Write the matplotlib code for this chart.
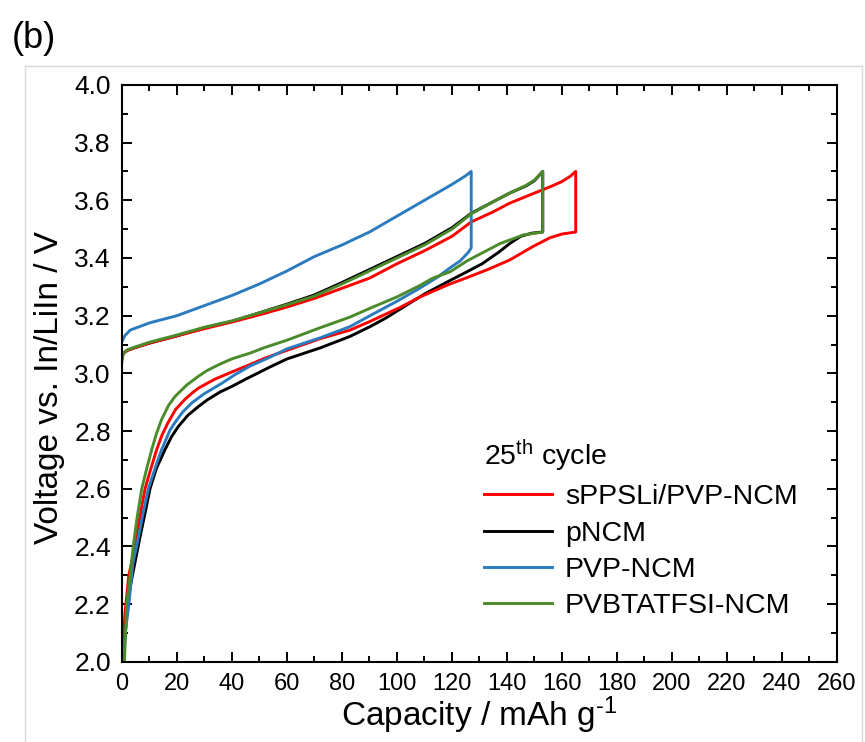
import matplotlib.pyplot as plt
from matplotlib.ticker import MultipleLocator
from matplotlib.lines import Line2D

plt.rcParams['font.family'] = ['Liberation Sans', 'DejaVu Sans']
plt.rcParams['mathtext.fontset'] = 'custom'
plt.rcParams['mathtext.rm'] = 'Liberation Sans'
plt.rcParams['mathtext.it'] = 'Liberation Sans'

labels = ['sPPSLi/PVP-NCM', 'pNCM', 'PVP-NCM', 'PVBTATFSI-NCM']
colors = ['#ff0000', '#000000', '#2b7bbf', '#4b8b2b']

# charge curves (capacity, voltage)
red_chg_q = [0, 0.5, 2, 5, 10, 20, 30, 40, 50, 60, 70, 80, 90, 100, 110, 120, 127, 135, 141, 150, 156, 160, 163, 165]
red_chg_v = [3.055, 3.07, 3.08, 3.09, 3.105, 3.13, 3.155, 3.178, 3.203, 3.23, 3.26, 3.295, 3.33, 3.38, 3.425,
             3.475, 3.525, 3.56, 3.59, 3.625, 3.648, 3.665, 3.683, 3.70]
blk_chg_q = [0, 0.5, 2, 5, 10, 20, 30, 40, 50, 60, 70, 80, 90, 100, 110, 120, 127, 135, 141, 147, 150, 153]
blk_chg_v = [3.06, 3.07, 3.08, 3.09, 3.105, 3.13, 3.158, 3.18, 3.21, 3.24, 3.272, 3.315, 3.36, 3.405, 3.45,
             3.505, 3.555, 3.595, 3.625, 3.65, 3.668, 3.70]
blu_chg_q = [0, 0.5, 1, 3, 10, 20, 30, 40, 50, 60, 70, 80, 90, 100, 110, 120, 125, 127]
blu_chg_v = [3.11, 3.12, 3.13, 3.15, 3.175, 3.20, 3.235, 3.27, 3.31, 3.355, 3.405, 3.445, 3.49, 3.545, 3.60,
             3.655, 3.685, 3.70]
grn_chg_q = [0, 0.5, 2, 5, 10, 20, 30, 40, 50, 60, 70, 80, 90, 100, 110, 120, 127, 135, 141, 147, 150, 153]
grn_chg_v = [3.04, 3.07, 3.082, 3.092, 3.108, 3.133, 3.16, 3.182, 3.21, 3.238, 3.268, 3.31, 3.355, 3.40, 3.445,
             3.50, 3.553, 3.595, 3.625, 3.652, 3.67, 3.70]

# discharge curves (capacity, voltage), from the end of discharge upward
red_dis_q = [0, 1.1, 2.5, 3.6, 5.5, 8.4, 10.2, 12.6, 14.5, 16.8, 19.5, 22.9, 25.5, 28, 33.8, 40, 45.9, 52, 60, 72,
             82.9, 90.2, 101, 108.4, 119.3, 125.5, 133, 141, 149.5, 155.6, 160, 165]
red_dis_v = [2.0, 2.17, 2.3, 2.35, 2.45, 2.6, 2.66, 2.735, 2.785, 2.83, 2.875, 2.91, 2.932, 2.95, 2.98, 3.005,
             3.028, 3.053, 3.08, 3.12, 3.15, 3.18, 3.228, 3.265, 3.31, 3.332, 3.36, 3.393, 3.44, 3.47, 3.483, 3.49]
blk_dis_q = [0.4, 1.8, 3, 4.7, 6.5, 8.5, 10.2, 12.5, 15.6, 18, 20.5, 24, 27.8, 31, 35.6, 40, 45, 53.8, 60, 72,
             82.9, 90.2, 96, 101, 110, 119.3, 125, 131, 137, 141, 145, 149, 153]
blk_dis_v = [2.0, 2.17, 2.26, 2.343, 2.43, 2.52, 2.6, 2.67, 2.735, 2.78, 2.816, 2.855, 2.885, 2.908, 2.935,
             2.955, 2.98, 3.022, 3.05, 3.088, 3.128, 3.162, 3.192, 3.222, 3.275, 3.322, 3.35, 3.38, 3.42, 3.45,
             3.475, 3.486, 3.49]
blu_dis_q = [0.5, 1.2, 2.5, 4, 5.3, 7.7, 9.6, 12.7, 14.4, 17.5, 19.3, 22, 25.3, 30, 36.2, 41, 46.5, 53.8, 60, 72,
             82.9, 90.2, 100, 108.4, 115, 119.3, 123, 126, 127]
blu_dis_v = [2.0, 2.1, 2.2, 2.343, 2.4, 2.516, 2.6, 2.69, 2.735, 2.804, 2.83, 2.865, 2.897, 2.93, 2.965, 2.995,
             3.025, 3.056, 3.085, 3.123, 3.162, 3.20, 3.25, 3.296, 3.335, 3.366, 3.39, 3.42, 3.435]
grn_dis_q = [0.9, 1.7, 3, 4.1, 5.5, 7.2, 9, 10.8, 12.5, 14.4, 17, 19.3, 23.6, 27.8, 31, 35.6, 39.9, 46.5, 52, 60,
             72, 82.9, 90, 100, 108.4, 113, 119.3, 125.5, 137.5, 146, 153]
grn_dis_v = [2.0, 2.2, 2.3, 2.4, 2.5, 2.6, 2.67, 2.735, 2.79, 2.84, 2.89, 2.92, 2.96, 2.99, 3.01, 3.032, 3.05,
             3.07, 3.09, 3.115, 3.158, 3.195, 3.225, 3.265, 3.305, 3.33, 3.352, 3.39, 3.45, 3.48, 3.49]

curves = {
    'sPPSLi/PVP-NCM': (red_chg_q, red_chg_v, red_dis_q, red_dis_v),
    'pNCM': (blk_chg_q, blk_chg_v, blk_dis_q, blk_dis_v),
    'PVP-NCM': (blu_chg_q, blu_chg_v, blu_dis_q, blu_dis_v),
    'PVBTATFSI-NCM': (grn_chg_q, grn_chg_v, grn_dis_q, grn_dis_v),
}

fig = plt.figure(figsize=(8.65, 7.42), dpi=100)
ax = fig.add_axes([0.141, 0.108, 0.8266, 0.7776])

# light grey panel frame
fig.add_artist(Line2D([25 / 865, 862 / 865], [1 - 66 / 742, 1 - 66 / 742], color='#d9d9d9', lw=1))
fig.add_artist(Line2D([25 / 865, 25 / 865], [0, 1 - 66 / 742], color='#d9d9d9', lw=1))
fig.add_artist(Line2D([862 / 865, 862 / 865], [0, 1 - 66 / 742], color='#d9d9d9', lw=1))

draw_order = ['pNCM', 'sPPSLi/PVP-NCM', 'PVP-NCM', 'PVBTATFSI-NCM']
handles = {}
for name in draw_order:
    cq, cv, dq, dv = curves[name]
    x = list(cq) + list(dq)[::-1]
    y = list(cv) + list(dv)[::-1]
    (ln,) = ax.plot(x, y, color=colors[labels.index(name)], lw=2.1, solid_joinstyle='round')
    handles[name] = ln

ax.set_xlim(0, 260)
ax.set_ylim(2.0, 4.0)
ax.xaxis.set_major_locator(MultipleLocator(20))
ax.xaxis.set_minor_locator(MultipleLocator(10))
ax.yaxis.set_major_locator(MultipleLocator(0.2))
ax.yaxis.set_minor_locator(MultipleLocator(0.1))
ax.yaxis.set_major_formatter(plt.FormatStrFormatter('%.1f'))
ax.tick_params(which='both', direction='in', top=True, right=True, width=1.4)
ax.tick_params(which='major', length=7.5)
ax.tick_params(which='minor', length=4)
ax.tick_params(axis='x', labelsize=17, pad=8)
ax.tick_params(axis='y', labelsize=19, pad=8)
for s in ax.spines.values():
    s.set_linewidth(1.5)

ax.set_xlabel('Capacity / mAh g$^{\\text{-1}}$', fontsize=24, labelpad=0)
ax.set_ylabel('Voltage vs. In/LiIn / V', fontsize=24)
ax.yaxis.set_label_coords(-0.079, 0.475)

leg = ax.legend([handles[n] for n in labels], labels, title='25$^{\\mathrm{th}}$ cycle',
                loc='upper left', bbox_to_anchor=(458 / 865, 1 - 412 / 742), bbox_transform=fig.transFigure,
                frameon=False, fontsize=20.5, title_fontsize=20.5, alignment='left',
                handlelength=2.4, handletextpad=0.45, labelspacing=0.36)

fig.text(12 / 865, 1 - 48 / 742, '(b)', fontsize=26)

fig.savefig('out.png', dpi=100)
